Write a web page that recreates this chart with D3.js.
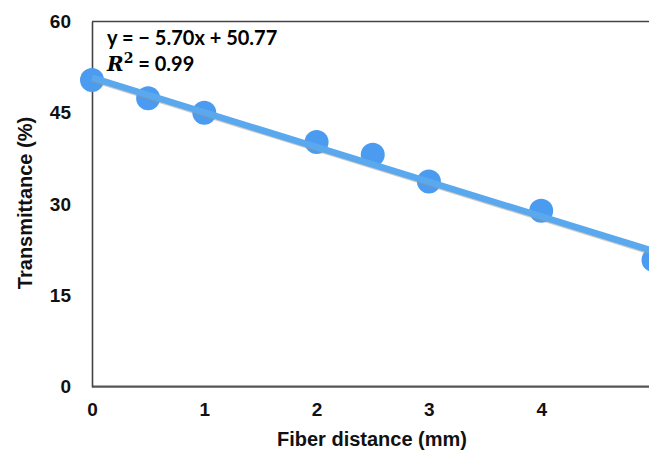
<!DOCTYPE html>
<html><head><meta charset="utf-8">
<script src="https://cdn.jsdelivr.net/npm/d3@7"></script>
<style>body{margin:0;background:#fff;} svg{display:block;}</style>
</head><body>
<svg id="c" width="649" height="453"></svg>
<script>
const xValues = [0, 0.5, 1, 2, 2.5, 3, 4, 5];
const yValues = [50.4, 47.4, 45.0, 40.2, 38.1, 33.7, 28.9, 20.8];
const xTicks = [0, 1, 2, 3, 4, 5];
const yTicks = [0, 15, 30, 45, 60];
const fitSlope = -5.70, fitIntercept = 50.77;
const eqText = "y = − 5.70x + 50.77";
const r2Text = " = 0.99";
const xTitle = "Fiber distance (mm)";
const yTitle = "Transmittance (%)";

const svg = d3.select("#c");
const x = d3.scaleLinear().domain([0, 5]).range([92, 653.5]);
const y = d3.scaleLinear().domain([0, 60]).range([386.7, 21.5]);

svg.append("line").attr("x1", x(0)).attr("x2", 700).attr("y1", y(60)).attr("y2", y(60))
  .attr("stroke", "#444").attr("stroke-width", 1.6);

const axFont = "'Liberation Sans', Arial, sans-serif";
const gx = svg.append("g").attr("transform", `translate(0,${y(0)})`)
  .call(d3.axisBottom(x).tickValues(xTicks).tickSize(0).tickPadding(16).tickFormat(d3.format("d")));
gx.select(".domain").attr("stroke", "#555").attr("stroke-width", 2.2).attr("d", `M${x(0)},0H700`);
gx.selectAll("text").attr("font-family", axFont).attr("font-weight", "bold").attr("font-size", 19).attr("fill", "#111");

const gy = svg.append("g").attr("transform", `translate(${x(0)},0)`)
  .call(d3.axisLeft(y).tickValues(yTicks).tickSize(0).tickPadding(21).tickFormat(d3.format("d")));
gy.select(".domain").attr("stroke", "#444").attr("stroke-width", 1.6);
gy.selectAll("text").attr("font-family", axFont).attr("font-weight", "bold").attr("font-size", 19).attr("fill", "#111");

svg.append("g").selectAll("circle").data(xValues.map((v, i) => [v, yValues[i]])).join("circle")
  .attr("cx", d => x(d[0])).attr("cy", d => y(d[1])).attr("r", 12).attr("fill", "#4b9cf0");

const fx = [0, 5];
svg.append("line").attr("x1", x(fx[0])).attr("y1", y(fitIntercept + fitSlope * fx[0]) + 1.5)
  .attr("x2", x(fx[1])).attr("y2", y(fitIntercept + fitSlope * fx[1]) + 1.5)
  .attr("stroke", "#9a958c").attr("stroke-width", 6).attr("opacity", 0.5);
svg.append("line").attr("x1", x(fx[0])).attr("y1", y(fitIntercept + fitSlope * fx[0]))
  .attr("x2", x(fx[1])).attr("y2", y(fitIntercept + fitSlope * fx[1]))
  .attr("stroke", "#5aa8ee").attr("stroke-width", 6.5);

const eqFont = "Lato, 'Open Sans', sans-serif";
svg.append("text").attr("x", 107).attr("y", 45).attr("font-family", eqFont).attr("font-weight", "bold")
  .attr("font-size", 20).attr("fill", "#000").text(eqText);
const r2 = svg.append("text").attr("x", 107).attr("y", 71).attr("font-weight", "bold").attr("font-size", 20).attr("fill", "#000");
r2.append("tspan").attr("font-family", "'DejaVu Serif', serif").attr("font-style", "italic").text("R");
r2.append("tspan").attr("font-family", "'DejaVu Serif', serif").attr("font-size", 14).attr("dy", -8).text("2");
r2.append("tspan").attr("font-family", eqFont).attr("dy", 8).text(r2Text);

svg.append("text").attr("x", 372).attr("y", 446).attr("text-anchor", "middle")
  .attr("font-family", axFont).attr("font-weight", "bold").attr("font-size", 20).attr("fill", "#111").text(xTitle);
svg.append("text").attr("transform", "translate(32,203) rotate(-90)").attr("text-anchor", "middle")
  .attr("font-family", axFont).attr("font-weight", "bold").attr("font-size", 20).attr("fill", "#111").text(yTitle);
</script>
</body></html>
